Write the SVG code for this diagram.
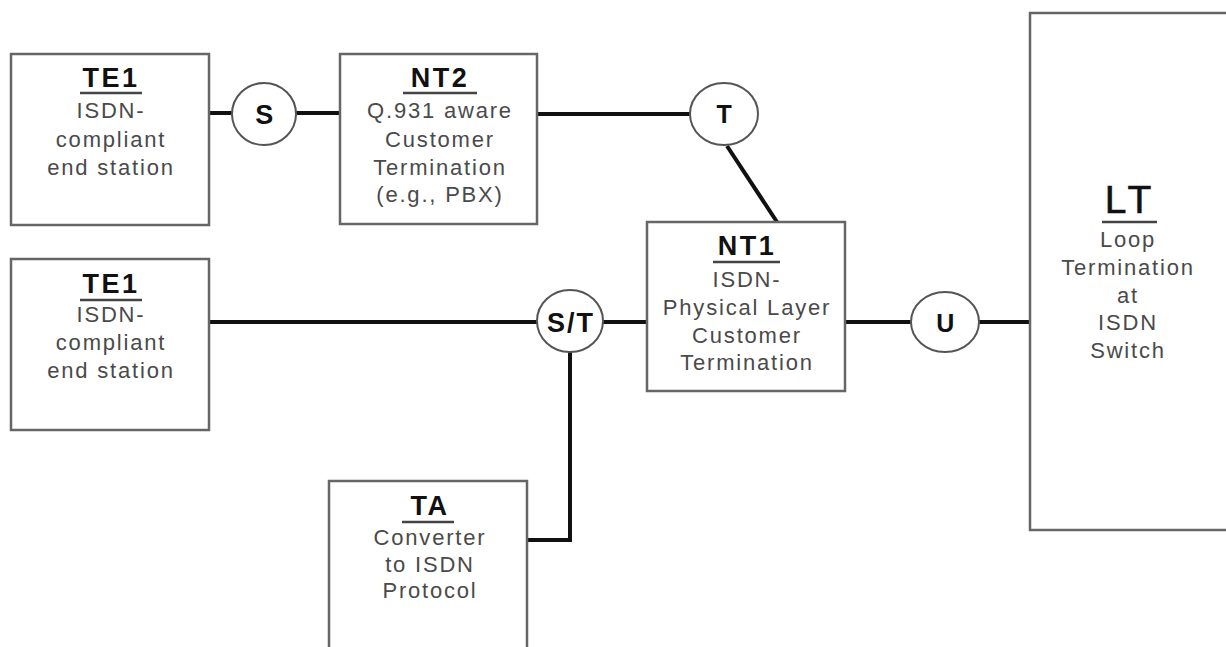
<svg xmlns="http://www.w3.org/2000/svg" width="1226" height="647" viewBox="0 0 1226 647">
<style>
.box{fill:#fff;stroke:#666;stroke-width:2.5}
.ring{fill:#fff;stroke:#555;stroke-width:2}
.wire{stroke:#111;stroke-width:4;fill:none}
.t{font-family:"Liberation Sans",Arial,sans-serif;font-weight:bold;font-size:27px;letter-spacing:2.5px;fill:#111;text-anchor:middle}
.b{font-family:"Liberation Sans",Arial,sans-serif;font-size:22px;letter-spacing:1.8px;fill:#4a4a4a;text-anchor:middle}
.c{font-family:"Liberation Sans",Arial,sans-serif;font-weight:bold;font-size:27px;letter-spacing:1.5px;fill:#111;text-anchor:middle}
.ul{stroke:#444;stroke-width:2.5}
</style>
<rect width="1226" height="647" fill="#fff"/>
<g id="connectors">
<path class="wire" d="M209 113H232"/>
<path class="wire" d="M296 113H340"/>
<path class="wire" d="M537 114H690"/>
<path class="wire" d="M727 146L777 222"/>
<path class="wire" d="M209 322H537"/>
<path class="wire" d="M603 322H647"/>
<path class="wire" d="M570 352V540H527"/>
<path class="wire" d="M845 322H911"/>
<path class="wire" d="M979 322H1030"/>
</g>
<g id="te1a">
<rect class="box" x="11" y="54" width="198" height="171"/>
<text class="t" x="111" y="87">TE1</text>
<line class="ul" x1="80" y1="93" x2="142" y2="93"/>
<text class="b" x="111" y="118">ISDN-</text>
<text class="b" x="111" y="147">compliant</text>
<text class="b" x="111" y="175">end station</text>
</g>
<g id="s">
<ellipse class="ring" cx="264" cy="114" rx="32" ry="31"/>
<text class="c" x="265" y="124">S</text>
</g>
<g id="nt2">
<rect class="box" x="340" y="54" width="197" height="170"/>
<text class="t" x="440" y="87">NT2</text>
<line class="ul" x1="403" y1="93" x2="477" y2="93"/>
<text class="b" x="440" y="118">Q.931 aware</text>
<text class="b" x="440" y="147">Customer</text>
<text class="b" x="440" y="175">Termination</text>
<text class="b" x="440" y="202">(e.g., PBX)</text>
</g>
<g id="t">
<ellipse class="ring" cx="724" cy="114" rx="34" ry="31"/>
<text class="c" x="725" y="123" style="font-size:25px">T</text>
</g>
<g id="nt1">
<rect class="box" x="647" y="222" width="198" height="169"/>
<text class="t" x="747" y="255">NT1</text>
<line class="ul" x1="713" y1="262" x2="780" y2="262"/>
<text class="b" x="747" y="287">ISDN-</text>
<text class="b" x="747" y="315">Physical Layer</text>
<text class="b" x="747" y="343">Customer</text>
<text class="b" x="747" y="370">Termination</text>
</g>
<g id="st">
<ellipse class="ring" cx="570" cy="321" rx="33" ry="31"/>
<text class="c" x="571" y="332" style="letter-spacing:2px">S/T</text>
</g>
<g id="te1b">
<rect class="box" x="11" y="259" width="198" height="171"/>
<text class="t" x="111" y="293">TE1</text>
<line class="ul" x1="80" y1="300" x2="142" y2="300"/>
<text class="b" x="111" y="322">ISDN-</text>
<text class="b" x="111" y="350">compliant</text>
<text class="b" x="111" y="378">end station</text>
</g>
<g id="ta">
<rect class="box" x="329" y="481" width="198" height="180"/>
<text class="t" x="430" y="515">TA</text>
<line class="ul" x1="402" y1="522" x2="454" y2="522"/>
<text class="b" x="430" y="545">Converter</text>
<text class="b" x="430" y="572">to ISDN</text>
<text class="b" x="430" y="598">Protocol</text>
</g>
<g id="u">
<ellipse class="ring" cx="945" cy="322" rx="34" ry="30"/>
<text class="c" x="946" y="332" style="font-size:25px">U</text>
</g>
<g id="lt">
<rect class="box" x="1030" y="13" width="210" height="517"/>
<text x="1130" y="213" style="font-family:'Liberation Sans',Arial,sans-serif;font-size:39px;letter-spacing:4px;fill:#111;text-anchor:middle;stroke:#111;stroke-width:0.6">LT</text>
<line class="ul" x1="1102" y1="222" x2="1157" y2="222"/>
<text class="b" x="1128" y="247">Loop</text>
<text class="b" x="1128" y="275">Termination</text>
<text class="b" x="1128" y="303">at</text>
<text class="b" x="1128" y="330">ISDN</text>
<text class="b" x="1128" y="358">Switch</text>
</g>
</svg>
